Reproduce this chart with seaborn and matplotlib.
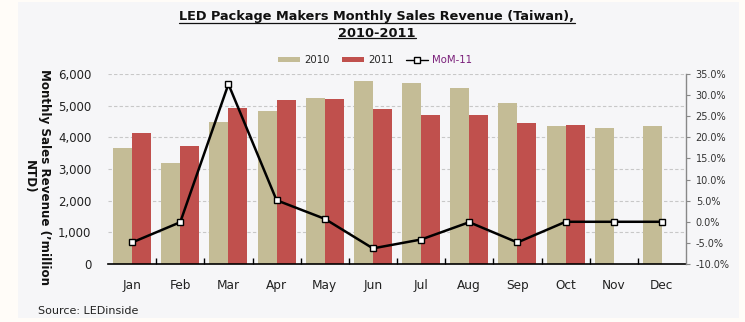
import matplotlib
matplotlib.use("Agg")
import matplotlib.pyplot as plt
import seaborn as sns
import numpy as np
import pandas as pd
from matplotlib.patches import Patch, Rectangle
from matplotlib.lines import Line2D
from matplotlib.text import Text
from matplotlib.ticker import FuncFormatter, MultipleLocator

months = ["Jan", "Feb", "Mar", "Apr", "May", "Jun", "Jul", "Aug", "Sep", "Oct", "Nov", "Dec"]
rev_2010 = [3660, 3190, 4480, 4830, 5240, 5780, 5720, 5560, 5080, 4360, 4300, 4360]
rev_2011 = [4140, 3730, 4930, 5180, 5210, 4900, 4710, 4710, 4450, 4390, np.nan, np.nan]
mom_11 = [-4.9, -0.1, 32.6, 5.1, 0.7, -6.3, -4.2, -0.1, -4.9, 0.0, 0.0, 0.0]
series_names = ["2010", "2011", "MoM-11"]

C2010 = "#c4bc96"
C2011 = "#c0504d"
PANEL = "#f6f6f8"

df = pd.DataFrame({
    "month": months * 2,
    "year": [series_names[0]] * 12 + [series_names[1]] * 12,
    "revenue": rev_2010 + rev_2011,
})

sns.set_theme(style="white")
plt.rcParams["font.family"] = ["DejaVu Sans"]

W, H = 745, 322
fig = plt.figure(figsize=(W / 100, H / 100), dpi=100)
fig.patch.set_facecolor("#fffcf8")
fig.add_artist(Rectangle((18 / W, 1 - 318 / H), (739 - 18) / W, 316 / H,
                         transform=fig.transFigure, facecolor=PANEL,
                         edgecolor="none", zorder=-10))

ax = fig.add_axes([108 / W, 1 - 264 / H, (686 - 108) / W, (264 - 74) / H])
ax.set_facecolor(PANEL)
sns.barplot(data=df, x="month", y="revenue", hue="year", order=months,
            hue_order=series_names[:2], palette=[C2010, C2011], saturation=1,
            width=0.79, gap=0, ax=ax, legend=False, err_kws={"linewidth": 0},
            linewidth=0, edgecolor="none")
ax.set_ylim(0, 6000)
ax.yaxis.set_major_locator(MultipleLocator(1000))
ax.yaxis.set_major_formatter(FuncFormatter(lambda v, p: f"{int(v):,}"))
ax.grid(axis="y", color="#c8c8c8", linestyle=(0, (3, 2)), linewidth=0.8)
ax.set_axisbelow(True)
ax.set_xlabel("")
ax.set_ylabel("")
for s in ["left", "top", "right"]:
    ax.spines[s].set_visible(False)
ax.spines["bottom"].set_color("black")
ax.spines["bottom"].set_linewidth(1.2)
ax.tick_params(axis="y", length=0, pad=12, labelsize=8.5, labelcolor="#222222")
ax.tick_params(axis="x", length=0, pad=11, labelsize=8.7, labelcolor="#222222")
ax.set_xticks(np.arange(len(months) - 1) + 0.5, minor=True)
ax.tick_params(axis="x", which="minor", direction="in", length=4, width=1, color="black", bottom=True)
ax.set_xlim(-0.5, len(months) - 0.5)

ax2 = ax.twinx()
sns.pointplot(x=months, y=mom_11, order=months, ax=ax2, color="black",
              markers="s", linewidth=1.8, markersize=5,
              markerfacecolor="white", markeredgecolor="black", markeredgewidth=1)
ax2.set_ylim(-10, 35)
ax2.set_xlim(-0.5, len(months) - 0.5)
ax2.yaxis.set_major_locator(MultipleLocator(5))
ax2.yaxis.set_major_formatter(FuncFormatter(lambda v, p: f"{v:.1f}%"))
for s in ["left", "top", "bottom"]:
    ax2.spines[s].set_visible(False)
ax2.spines["right"].set_color("#888888")
ax2.spines["right"].set_linewidth(1)
ax2.tick_params(axis="y", right=True, length=3, width=0.8, color="#888888",
                pad=4, labelsize=7, labelcolor="#333333")
ax2.grid(False)
ax2.set_ylabel("")

fig.text(36.5 / W, 1 - 177 / H, "Monthly Sales Revenue (\u2019million\nNTD)",
         rotation=-90, ha="center", va="center", multialignment="center",
         fontsize=8.6, fontweight="bold", color="#111111", linespacing=1.2)

TFS = 9.3
title = fig.text(377 / W, 1 - 25 / H, "LED Package Makers Monthly Sales Revenue (Taiwan),\n2010-2011",
                 ha="center", va="center", multialignment="center",
                 fontsize=TFS, fontweight="bold", color="#111111", linespacing=1.4)

handles = [Patch(facecolor=C2010, edgecolor="none"),
           Patch(facecolor=C2011, edgecolor="none"),
           Line2D([], [], color="black", marker="s", markersize=4.5, linewidth=1,
                  markerfacecolor="white", markeredgecolor="black")]
leg = fig.legend(handles, series_names, loc="center", bbox_to_anchor=(375 / W, 1 - 60 / H),
                 ncol=3, frameon=False, fontsize=7.3, handlelength=2.2, handleheight=0.5,
                 columnspacing=1.2, handletextpad=0.4)
leg.get_texts()[2].set_color("#7a1f7a")

fig.text(38 / W, 1 - 311 / H, "Source: LEDinside", ha="left", va="center",
         fontsize=8, color="#222222")

# underline title lines
fig.canvas.draw()
r = fig.canvas.get_renderer()
bb = title.get_window_extent(r)
lines = title.get_text().split("\n")
nl = len(lines)
lh = bb.height / nl
for i, ln in enumerate(lines):
    t = Text(0, 0, ln, fontsize=TFS, fontweight="bold")
    t.set_figure(fig)
    w = t.get_window_extent(r).width
    ycen = bb.y1 - lh * (i + 0.5)
    yl = ycen - lh * 0.36
    cx = (bb.x0 + bb.x1) / 2
    fig.add_artist(Line2D([(cx - w / 2) / W, (cx + w / 2) / W], [yl / H, yl / H],
                          transform=fig.transFigure, color="#111111", linewidth=0.9))

fig.savefig("out.png", dpi=100, facecolor=fig.get_facecolor())
